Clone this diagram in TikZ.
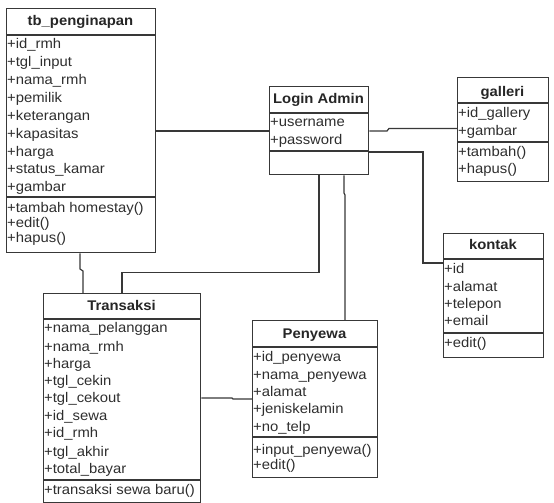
\documentclass[tikz,border=0pt]{standalone}
\usepackage{fontspec}
\setmainfont{Liberation Sans}[FakeStretch=1.06]
\begin{document}
\begin{tikzpicture}[x=1pt,y=-1pt,
  box/.style={draw=black!78,line width=1.3pt,inner sep=0pt,anchor=north west},
  sep/.style={draw=black!78,line width=1.2pt},
  conn/.style={draw=black!78,line width=1.2pt},
  attr/.style={anchor=base west,inner sep=0pt,text=black!82,font=\fontsize{14}{16}\selectfont},
  head/.style={anchor=base,inner sep=0pt,text=black!85,font=\fontsize{14}{16}\selectfont\bfseries}]
\useasboundingbox (0,0) rectangle (554,503);
% ---------- tb_penginapan
\node[box,minimum width=149pt,minimum height=244pt] (peng) at (6,8) {};
\draw[sep] (peng.west |- 0,35) -- (peng.east |- 0,35);
\draw[sep] (peng.west |- 0,197) -- (peng.east |- 0,197);
\node[head] (pengH) at (80.5,26) {tb\_penginapan};
\node[attr] (p1) at (7,48.5) {+id\_rmh};
\node[attr] (p2) at (7,66.5) {+tgl\_input};
\node[attr] (p3) at (7,84.5) {+nama\_rmh};
\node[attr] (p4) at (7,102.5) {+pemilik};
\node[attr] (p5) at (7,120.5) {+keterangan};
\node[attr] (p6) at (7,138) {+kapasitas};
\node[attr] (p7) at (7,156) {+harga};
\node[attr] (p8) at (7,173.5) {+status\_kamar};
\node[attr] (p9) at (7,191.5) {+gambar};
\node[attr] (pm1) at (7,212.5) {+tambah homestay()};
\node[attr] (pm2) at (7,227.5) {+edit()};
\node[attr] (pm3) at (7,242.5) {+hapus()};
% ---------- Login Admin
\node[box,minimum width=99pt,minimum height=88pt] (login) at (269,86) {};
\draw[sep] (login.west |- 0,113) -- (login.east |- 0,113);
\draw[sep] (login.west |- 0,151) -- (login.east |- 0,151);
\node[head] (loginH) at (318.5,103) {Login Admin};
\node[attr] (l1) at (270,126.5) {+username};
\node[attr] (l2) at (270,144.5) {+password};
% ---------- galleri
\node[box,minimum width=91pt,minimum height=104pt] (gal) at (457,77) {};
\draw[sep] (gal.west |- 0,103) -- (gal.east |- 0,103);
\draw[sep] (gal.west |- 0,142) -- (gal.east |- 0,142);
\node[head] (galH) at (502.5,96.5) {galleri};
\node[attr] (g1) at (458,117.5) {+id\_gallery};
\node[attr] (g2) at (458,135.5) {+gambar};
\node[attr] (gm1) at (458,156.5) {+tambah()};
\node[attr] (gm2) at (458,173.5) {+hapus()};
% ---------- kontak
\node[box,minimum width=100pt,minimum height=124pt] (kon) at (443,233) {};
\draw[sep] (kon.west |- 0,259) -- (kon.east |- 0,259);
\draw[sep] (kon.west |- 0,333) -- (kon.east |- 0,333);
\node[head] (konH) at (493,249.5) {kontak};
\node[attr] (k1) at (444,273.5) {+id};
\node[attr] (k2) at (444,291.5) {+alamat};
\node[attr] (k3) at (444,308.5) {+telepon};
\node[attr] (k4) at (444,325.5) {+email};
\node[attr] (km1) at (444,347.5) {+edit()};
% ---------- Transaksi
\node[box,minimum width=157pt,minimum height=208.5pt] (tra) at (43,293) {};
\draw[sep] (tra.west |- 0,319) -- (tra.east |- 0,319);
\draw[sep] (tra.west |- 0,480) -- (tra.east |- 0,480);
\node[head] (traH) at (121.5,310.5) {Transaksi};
\node[attr] (t1) at (44,332.5) {+nama\_pelanggan};
\node[attr] (t2) at (44,351.5) {+nama\_rmh};
\node[attr] (t3) at (44,368.5) {+harga};
\node[attr] (t4) at (44,385.5) {+tgl\_cekin};
\node[attr] (t5) at (44,402.5) {+tgl\_cekout};
\node[attr] (t6) at (44,420.5) {+id\_sewa};
\node[attr] (t7) at (44,437.5) {+id\_rmh};
\node[attr] (t8) at (44,456.5) {+tgl\_akhir};
\node[attr] (t9) at (44,473.5) {+total\_bayar};
\node[attr] (tm1) at (44,494.5) {+transaksi sewa baru()};
% ---------- Penyewa
\node[box,minimum width=125pt,minimum height=157pt] (pen) at (252,320) {};
\draw[sep] (pen.west |- 0,347) -- (pen.east |- 0,347);
\draw[sep] (pen.west |- 0,437) -- (pen.east |- 0,437);
\node[head] (penH) at (314.5,338) {Penyewa};
\node[attr] (y1) at (253,361.5) {+id\_penyewa};
\node[attr] (y2) at (253,379.5) {+nama\_penyewa};
\node[attr] (y3) at (253,396.5) {+alamat};
\node[attr] (y4) at (253,413.5) {+jeniskelamin};
\node[attr] (y5) at (253,431.5) {+no\_telp};
\node[attr] (ym1) at (253,454.5) {+input\_penyewa()};
\node[attr] (ym2) at (253,469.5) {+edit()};
% ---------- connectors
\draw[conn] (peng.east |- 0,131) -- (login.west |- 0,131);
\draw[conn] (login.east |- 0,131) -- (387,131) -- (389,128.5) -- (gal.west |- 0,128.5);
\draw[conn] (login.east |- 0,152) -- (423,152) -- (423,263) -- (kon.west |- 0,263);
\draw[conn] (login.south -| 319,0) -- (319,272.5) -- (122,272.5) -- (tra.north -| 122,0);
\draw[conn] (peng.south -| 80,0) -- (80,269) -- (83,271) -- (tra.north -| 83,0);
\draw[conn] (login.south -| 344,0) -- (344,193) -- (345,195) -- (pen.north -| 345,0);
\draw[conn] (tra.east |- 0,398) -- (232,398) -- (233,399) -- (pen.west |- 0,399);
\end{tikzpicture}
\end{document}
